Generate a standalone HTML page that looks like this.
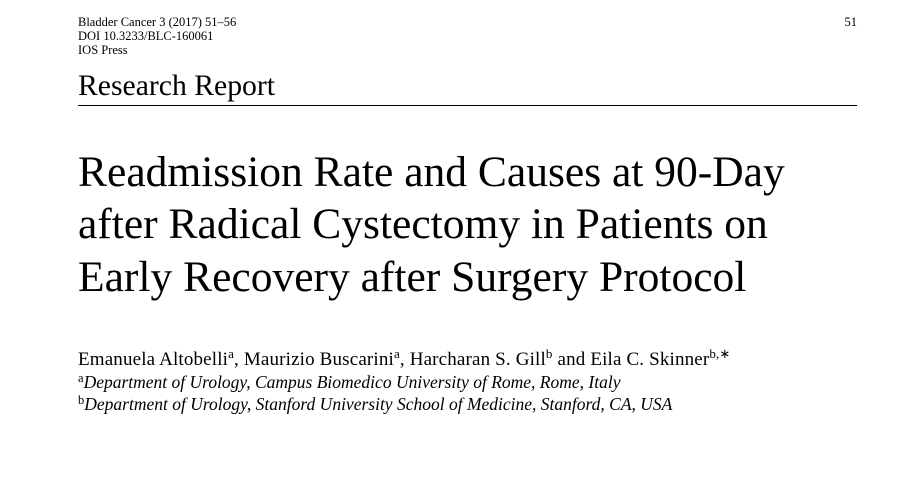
<!DOCTYPE html>
<html>
<head>
<meta charset="utf-8">
<style>
  html,body{margin:0;padding:0;background:#fff;}
  body{width:904px;height:488px;position:relative;overflow:hidden;font-family:"Liberation Serif","Times New Roman",serif;color:#000;}
  .a{position:absolute;white-space:nowrap;line-height:1;}
  .hdr{font-size:12.5px;left:78px;}
  .t{font-size:43.5px;left:78px;}
  .sup{font-size:13px;position:relative;top:-7px;}
  .sup2{font-size:12.5px;position:relative;top:-6px;font-style:normal;}
  i{font-style:italic;}
</style>
</head>
<body>
  <div class="a hdr" style="top:15.5px;">Bladder Cancer 3 (2017) 51–56</div>
  <div class="a hdr" style="top:29.5px;">DOI 10.3233/BLC-160061</div>
  <div class="a hdr" style="top:43.5px;">IOS Press</div>
  <div class="a" style="font-size:12.5px;top:15.5px;right:47px;">51</div>

  <div class="a" style="font-size:29.7px;left:78px;top:71.5px;">Research Report</div>
  <div style="position:absolute;left:78px;top:104.5px;width:779px;height:1.5px;background:#000;"></div>

  <div class="a t" style="top:150.5px;">Readmission Rate and Causes at 90-Day</div>
  <div class="a t" style="top:203px;">after Radical Cystectomy in Patients on</div>
  <div class="a t" style="top:255.5px;">Early Recovery after Surgery Protocol</div>

  <div class="a" style="font-size:19px;letter-spacing:0.16px;left:78px;top:349.5px;">Emanuela Altobelli<span class="sup">a</span>, Maurizio Buscarini<span class="sup">a</span>, Harcharan S. Gill<span class="sup">b</span> and Eila C. Skinner<span class="sup">b,∗</span></div>
  <div class="a" style="font-size:17.5px;left:78px;top:373.5px;"><span class="sup2">a</span><i>Department of Urology, Campus Biomedico University of Rome, Rome, Italy</i></div>
  <div class="a" style="font-size:17.5px;left:78px;top:395.5px;"><span class="sup2">b</span><i>Department of Urology, Stanford University School of Medicine, Stanford, CA, USA</i></div>
</body>
</html>
